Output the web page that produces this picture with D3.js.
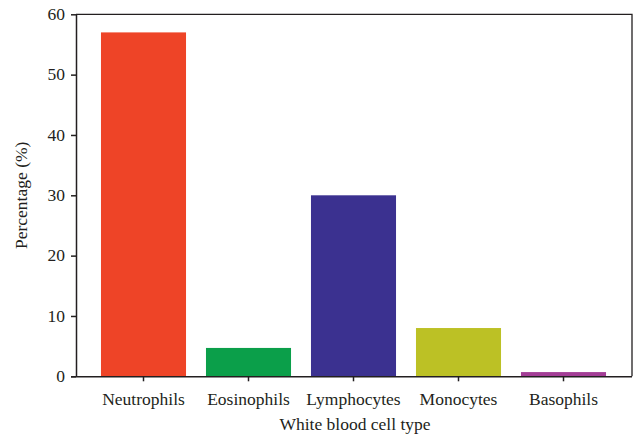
<!DOCTYPE html>
<html>
<head>
<meta charset="utf-8">
<script src="https://cdn.jsdelivr.net/npm/d3@7"></script>
<style>
  body { margin: 0; background: #fff; }
  svg { display: block; }
</style>
</head>
<body>
<script>
// chart data
const cellTypes = ['Neutrophils', 'Eosinophils', 'Lymphocytes', 'Monocytes', 'Basophils'];
const percentages = [57, 4.7, 30, 8, 0.7];
const barColors = ['#ee4427', '#0b9f4a', '#3b3190', '#bcc125', '#a33d96'];
const yTicks = [0, 10, 20, 30, 40, 50, 60];

const WIDTH = 635;
const HEIGHT = 438;
const LEFT = 76;
const RIGHT = 632;
const TOP = 14.3;
const BOTTOM = 376.3;
const AXIS_COLOR = '#231f20';
const FONT = '"Liberation Serif", "DejaVu Serif", serif';
const FONT_SIZE = 17.5;

const svg = d3.select('body')
  .append('svg')
    .attr('width', WIDTH)
    .attr('height', HEIGHT)
    .attr('font-family', FONT);

const xScale = d3.scaleBand()
    .domain(cellTypes)
    .range([91, 616])
    .paddingInner(0.19)
    .paddingOuter(0.095);

const yScale = d3.scaleLinear()
    .domain([0, 60])
    .range([BOTTOM, TOP]);

// bars
svg.append('g')
  .selectAll('rect')
  .data(cellTypes)
  .enter()
  .append('rect')
    .attr('x', d => xScale(d))
    .attr('y', (d, i) => yScale(percentages[i]))
    .attr('width', xScale.bandwidth())
    .attr('height', (d, i) => BOTTOM - yScale(percentages[i]))
    .attr('fill', (d, i) => barColors[i]);

// frame (top and right)
svg.append('path')
    .attr('d', `M${LEFT},${TOP}H${RIGHT}V${BOTTOM}`)
    .attr('fill', 'none')
    .attr('stroke', AXIS_COLOR)
    .attr('stroke-width', 1.3);

const styleAxis = g => {
  g.attr('font-family', FONT).attr('font-size', FONT_SIZE);
  g.selectAll('line, path').attr('stroke', AXIS_COLOR).attr('stroke-width', 1.5);
  g.selectAll('text').attr('fill', AXIS_COLOR);
};

// y axis
const yAxis = d3.axisLeft(yScale)
    .tickValues(yTicks)
    .tickSize(5)
    .tickSizeOuter(0)
    .tickPadding(6);

svg.append('g')
    .attr('transform', `translate(${LEFT}, 0)`)
    .call(yAxis)
    .call(styleAxis)
    .call(g => g.selectAll('text').attr('dy', '0.3em'));

// x axis
const xAxis = d3.axisBottom(xScale)
    .tickSize(5)
    .tickSizeOuter(0)
    .tickPadding(11);

svg.append('g')
    .attr('transform', `translate(0, ${BOTTOM})`)
    .call(xAxis)
    .call(g => g.select('.domain').attr('d', `M${LEFT - 5},0.5H${RIGHT}`))
    .call(styleAxis);

// axis labels
svg.append('text')
    .attr('x', (LEFT + RIGHT) / 2 + 1)
    .attr('y', 430)
    .attr('text-anchor', 'middle')
    .attr('font-size', FONT_SIZE)
    .attr('fill', AXIS_COLOR)
    .text('White blood cell type');

svg.append('text')
    .attr('transform', `translate(27, ${(TOP + BOTTOM) / 2}) rotate(-90)`)
    .attr('text-anchor', 'middle')
    .attr('font-size', FONT_SIZE)
    .attr('fill', AXIS_COLOR)
    .text('Percentage (%)');
</script>
</body>
</html>
